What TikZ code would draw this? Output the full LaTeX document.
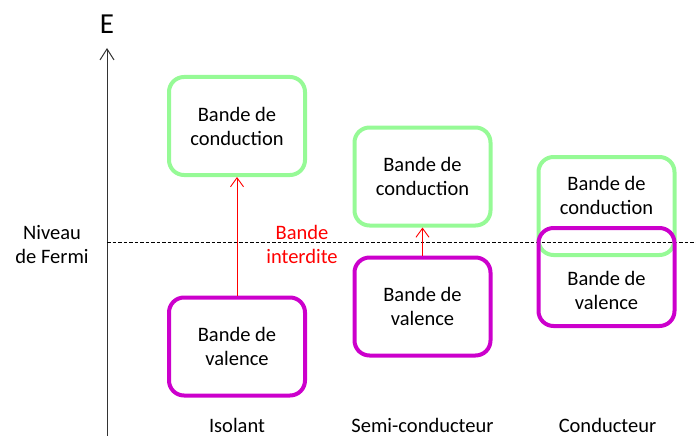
\documentclass[tikz,border=0pt]{standalone}
\usepackage{fontspec}
\setmainfont{Carlito}
\usetikzlibrary{arrows.meta}
\definecolor{bandgreen}{RGB}{150,250,150}
\definecolor{bandpurple}{RGB}{204,0,204}
\begin{document}
\begin{tikzpicture}[x=1pt,y=-1pt,
  lbl/.style={font=\fontsize{20.5}{24}\selectfont, align=center, inner sep=0pt},
  band/.style={draw, line width=4pt, rounded corners=15pt, minimum width=136pt, minimum height=98pt, inner sep=0pt, lbl},
  cband/.style={band, draw=bandgreen},
  vband/.style={band, draw=bandpurple},
  gap/.style={red, line width=0.9pt, -{Straight Barb[length=9pt,width=13pt]}},
]
\useasboundingbox (0,0) rectangle (696,436);
% axis
\coordinate (axb) at (107,436);
\coordinate (axt) at (107,48);
\draw[line width=1pt, black!80, -{Straight Barb[length=11pt,width=14pt]}] (axb) -- (axt);
\node[font=\fontsize{29}{34}\selectfont, inner sep=0pt] (E) at (107,24) {E};
% Fermi level
\coordinate (fl) at (107,242.5);
\coordinate (fr) at (696,242.5);
\draw[line width=1.1pt, dash pattern=on 3.5pt off 2pt] (fl) -- (fr);
\node[lbl] (fermi) at (52,244.5) {Niveau\\de Fermi};
% Isolant
\node[cband] (ic) at (237,126) {Bande de\\conduction};
\node[vband] (iv) at (237,346.5) {Bande de\\valence};
\draw[gap] (iv.north) -- (ic.south);
\node[lbl, text=red] (gapl) at (302,244.5) {Bande\\interdite};
% Semi-conducteur
\node[cband] (sc) at (422.5,176.5) {Bande de\\conduction};
\node[vband] (sv) at (422.5,306.5) {Bande de\\valence};
\draw[gap] (sv.north) -- (sc.south);
% Conducteur
\node[cband] (cc) at (606.5,206) {};
\node[vband] (cv) at (606.5,277) {};
\node[lbl] (cct) at (606.5,195) {Bande de\\conduction};
\node[lbl] (cvt) at (606.5,290) {Bande de\\valence};
% labels
\node[lbl] (iso) at (237,425) {Isolant};
\node[lbl] (semi) at (422.5,425) {Semi-conducteur};
\node[lbl] (cond) at (607.5,425) {Conducteur};
\end{tikzpicture}
\end{document}
